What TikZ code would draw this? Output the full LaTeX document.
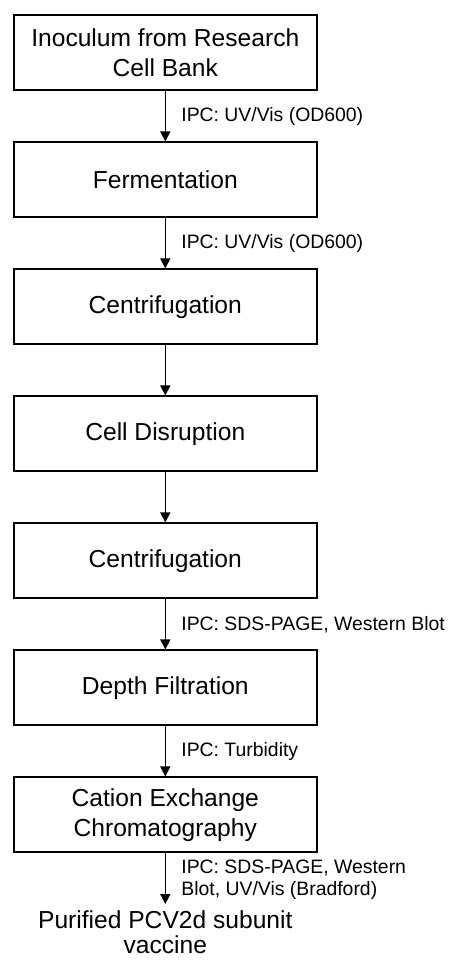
\documentclass[tikz,border=0pt]{standalone}
\usepackage{fontspec}
\setmainfont{Liberation Sans}
\usetikzlibrary{arrows.meta}

\begin{document}
\begin{tikzpicture}[x=1pt, y=1pt,
    stage/.style={draw, line width=1.7pt, minimum width=303pt, minimum height=75pt,
      align=center, font=\fontsize{24.6}{30}\selectfont},
    ipc/.style={anchor=west, xshift=12pt, align=left, font=\fontsize{19.4}{22.7}\selectfont},
    flow/.style={line width=1.5pt, -{Triangle[width=10pt, length=10pt]}}]
    \useasboundingbox (0,0) rectangle (452,-962);
    \foreach \name/\i/\txt in {inoc/0/{Inoculum from Research\\Cell Bank}, ferm/1/Fermentation,
                               centa/2/Centrifugation, disr/3/Cell Disruption, centb/4/Centrifugation,
                               depth/5/Depth Filtration, cex/6/{Cation Exchange\\Chromatography}}
             {
               \node[stage] (\name) at (165.3, -52.8-127*\i) {\txt};
             }
    \node[anchor=north, align=center, inner sep=0pt,
          font=\fontsize{24.6}{25}\selectfont] (prod) at (165.3, -910) {Purified PCV2d subunit\\vaccine};

    \draw[flow] (inoc) -- (ferm) node[midway, ipc] {IPC: UV/Vis (OD600)};
    \draw[flow] (ferm) -- (centa) node[midway, ipc] {IPC: UV/Vis (OD600)};
    \draw[flow] (centa) -- (disr);
    \draw[flow] (disr) -- (centb);
    \draw[flow] (centb) -- (depth) node[midway, ipc] {IPC: SDS-PAGE, Western Blot};
    \draw[flow] (depth) -- (cex) node[midway, ipc] {IPC: Turbidity};
    \draw[flow, shorten >=6pt] (cex) -- (prod) node[pos=0.47, ipc] {IPC: SDS-PAGE, Western\\Blot, UV/Vis (Bradford)};
  \end{tikzpicture}
\end{document}
